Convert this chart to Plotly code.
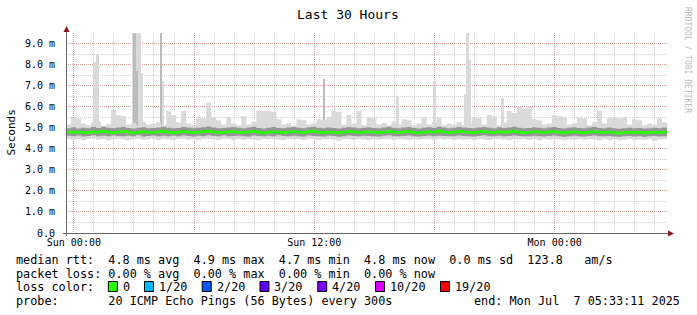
import plotly.graph_objects as go
import pandas as pd

# ---------------- data ----------------
T0 = "2025-07-05 23:36:30"
T1 = "2025-07-07 05:36:30"
STEP = "15min"

med = [4.78, 4.80, 4.77, 4.79, 4.76, 4.81, 4.78, 4.83, 4.79, 4.76,
       4.80, 4.82, 4.78, 4.75, 4.79, 4.81, 4.77, 4.78, 4.80, 4.84,
       4.79, 4.76, 4.78, 4.82, 4.80, 4.77, 4.79, 4.81, 4.84, 4.80,
       4.76, 4.78, 4.80, 4.82, 4.79, 4.77, 4.80, 4.83, 4.78, 4.75,
       4.79, 4.81, 4.78, 4.76, 4.80, 4.82, 4.79, 4.77, 4.81, 4.84,
       4.79, 4.76, 4.80, 4.78, 4.75, 4.79, 4.82, 4.80, 4.77, 4.79,
       4.81, 4.78, 4.76, 4.80, 4.83, 4.79, 4.77, 4.80, 4.82, 4.78,
       4.75, 4.79, 4.81, 4.78, 4.84, 4.80, 4.77, 4.79, 4.82, 4.80,
       4.78, 4.76, 4.80, 4.83, 4.79, 4.77, 4.81, 4.78, 4.80, 4.84,
       4.79, 4.76, 4.78, 4.81, 4.79, 4.77, 4.80, 4.82, 4.78, 4.75,
       4.79, 4.81, 4.78, 4.76, 4.80, 4.82, 4.78, 4.77, 4.80, 4.76,
       4.74, 4.77, 4.79, 4.76, 4.78, 4.75, 4.77, 4.79, 4.76, 4.80]

hi = [5.15, 5.50, 5.45, 5.20, 5.12, 5.25, 5.30, 5.10, 5.18, 5.85,
      5.60, 5.55, 5.15, 5.22, 5.10, 5.28, 5.15, 5.20, 5.26, 5.12,
      5.80, 5.60, 5.25, 5.80, 5.20, 5.12, 5.50, 5.45, 6.20, 5.50,
      5.35, 5.15, 5.50, 5.20, 5.12, 5.55, 5.15, 5.28, 5.80, 5.80,
      5.80, 5.75, 5.40, 5.15, 5.20, 5.10, 5.40, 5.35, 5.15, 5.22,
      5.40, 5.35, 5.50, 5.80, 5.75, 5.15, 5.60, 5.20, 5.80, 5.12,
      5.50, 5.45, 5.15, 5.22, 5.12, 5.28, 5.15, 5.40, 5.35, 5.12,
      5.20, 5.50, 5.15, 5.26, 5.50, 5.12, 5.20, 5.15, 5.28, 5.12,
      5.20, 5.50, 5.45, 5.15, 5.60, 5.55, 5.12, 5.26, 5.80, 5.70,
      6.00, 5.90, 6.00, 5.40, 5.35, 5.15, 5.20, 5.60, 5.55, 5.50,
      5.15, 5.22, 5.50, 5.45, 5.12, 5.26, 5.80, 5.20, 5.45, 5.50,
      5.45, 5.50, 5.15, 5.40, 5.35, 5.12, 5.20, 5.15, 5.45, 5.26]

lo = [4.45, 4.42, 4.48, 4.40, 4.46, 4.50, 4.43, 4.47, 4.41, 4.45,
      4.49, 4.44, 4.40, 4.46, 4.48, 4.43, 4.45, 4.50, 4.42, 4.47,
      4.44, 4.40, 4.46, 4.48, 4.43, 4.45, 4.41, 4.47, 4.49, 4.44,
      4.42, 4.46, 4.45, 4.40, 4.48, 4.43, 4.47, 4.44, 4.41, 4.46,
      4.45, 4.49, 4.43, 4.40, 4.47, 4.44, 4.46, 4.42, 4.48, 4.45,
      4.41, 4.44, 4.47, 4.43, 4.38, 4.46, 4.45, 4.42, 4.48, 4.44,
      4.40, 4.46, 4.43, 4.47, 4.45, 4.41, 4.48, 4.44, 4.42, 4.46,
      4.43, 4.47, 4.45, 4.40, 4.48, 4.44, 4.46, 4.42, 4.45, 4.43,
      4.47, 4.41, 4.46, 4.44, 4.42, 4.48, 4.45, 4.43, 4.40, 4.46,
      4.44, 4.47, 4.42, 4.45, 4.41, 4.46, 4.43, 4.48, 4.44, 4.40,
      4.45, 4.42, 4.47, 4.43, 4.46, 4.44, 4.41, 4.48, 4.42, 4.45,
      4.40, 4.43, 4.46, 4.41, 4.44, 4.42, 4.45, 4.38, 4.43, 4.46]

q1 = [4.62, 4.60, 4.63, 4.58, 4.61, 4.64, 4.59, 4.62, 4.60, 4.63,
      4.61, 4.59, 4.62, 4.60, 4.64, 4.58, 4.61, 4.63, 4.60, 4.62,
      4.59, 4.62, 4.60, 4.63, 4.61, 4.58, 4.62, 4.60, 4.64, 4.61,
      4.60, 4.63, 4.59, 4.61, 4.62, 4.60, 4.58, 4.63, 4.61, 4.59,
      4.62, 4.60, 4.64, 4.61, 4.59, 4.62, 4.60, 4.58, 4.63, 4.61,
      4.60, 4.58, 4.62, 4.61, 4.57, 4.60, 4.63, 4.61, 4.59, 4.62,
      4.61, 4.60, 4.58, 4.62, 4.64, 4.60, 4.59, 4.61, 4.63, 4.60,
      4.58, 4.61, 4.63, 4.60, 4.62, 4.61, 4.59, 4.60, 4.63, 4.61,
      4.60, 4.58, 4.61, 4.64, 4.60, 4.59, 4.62, 4.60, 4.61, 4.63,
      4.61, 4.59, 4.60, 4.62, 4.60, 4.58, 4.61, 4.63, 4.60, 4.57,
      4.60, 4.62, 4.59, 4.58, 4.61, 4.63, 4.60, 4.59, 4.61, 4.58,
      4.57, 4.59, 4.61, 4.58, 4.60, 4.57, 4.59, 4.61, 4.58, 4.60]

q3 = [4.98, 5.02, 4.96, 5.00, 4.97, 5.03, 4.99, 5.05, 5.00, 4.97,
      5.01, 5.04, 4.99, 4.96, 5.00, 5.02, 4.98, 4.99, 5.01, 5.05,
      5.00, 4.97, 4.99, 5.03, 5.01, 4.98, 5.00, 5.02, 5.06, 5.01,
      4.97, 4.99, 5.01, 5.04, 5.00, 4.98, 5.01, 5.05, 4.99, 4.96,
      5.00, 5.03, 4.99, 4.97, 5.01, 5.04, 5.00, 4.98, 5.02, 5.05,
      5.00, 4.97, 5.01, 4.99, 4.96, 5.00, 5.04, 5.01, 4.98, 5.00,
      5.02, 4.99, 4.97, 5.01, 5.05, 5.00, 4.98, 5.01, 5.03, 4.99,
      4.96, 5.00, 5.02, 4.99, 5.05, 5.01, 4.98, 5.00, 5.03, 5.01,
      4.99, 4.97, 5.01, 5.04, 5.00, 4.98, 5.02, 4.99, 5.01, 5.05,
      5.00, 4.97, 4.99, 5.02, 5.00, 4.98, 5.01, 5.04, 4.99, 4.96,
      5.00, 5.02, 4.99, 4.97, 5.01, 5.03, 4.99, 4.98, 5.01, 4.97,
      4.95, 4.98, 5.00, 4.97, 4.99, 4.96, 4.98, 5.00, 4.97, 5.01]

# tall isolated smoke spikes (light)
spike_start = ["2025-07-06 00:56", "2025-07-06 01:05", "2025-07-06 02:53", "2025-07-06 03:20",
               "2025-07-06 04:17", "2025-07-06 04:23", "2025-07-06 12:26", "2025-07-06 16:05",
               "2025-07-06 17:57", "2025-07-06 19:29", "2025-07-06 19:35", "2025-07-06 19:44",
               "2025-07-06 21:20"]
spike_end = ["2025-07-06 01:05", "2025-07-06 01:14", "2025-07-06 03:20", "2025-07-06 03:26",
             "2025-07-06 04:23", "2025-07-06 04:29", "2025-07-06 12:32", "2025-07-06 16:14",
             "2025-07-06 18:06", "2025-07-06 19:35", "2025-07-06 19:44", "2025-07-06 19:50",
             "2025-07-06 21:29"]
spike_top = [8.1, 8.5, 9.5, 7.6, 9.5, 7.2, 7.3, 6.5, 7.2, 6.6, 9.5, 8.2, 6.4]

# darker parts of the spikes
dark_start = ["2025-07-06 02:56", "2025-07-06 03:05", "2025-07-06 04:17", "2025-07-06 12:27"]
dark_end = ["2025-07-06 03:05", "2025-07-06 03:11", "2025-07-06 04:23", "2025-07-06 12:30"]
dark_top = [9.5, 7.7, 9.5, 7.3]

ytick_vals = [0, 1, 2, 3, 4, 5, 6, 7, 8, 9]
ytick_text = ["0.0", "1.0 m", "2.0 m", "3.0 m", "4.0 m", "5.0 m", "6.0 m", "7.0 m", "8.0 m", "9.0 m"]
xtick_vals = ["2025-07-06 00:00", "2025-07-06 06:00", "2025-07-06 12:00", "2025-07-06 18:00", "2025-07-07 00:00"]
xtick_text = ["Sun 00:00", "", "Sun 12:00", "", "Mon 00:00"]

title = "Last 30 Hours"
y_title = "Seconds"
line_rtt = "median rtt:  4.8 ms avg  4.9 ms max  4.7 ms min  4.8 ms now  0.0 ms sd  123.8   am/s"
line_loss = "packet loss: 0.00 % avg  0.00 % max  0.00 % min  0.00 % now"
line_color = "loss color:"
loss_labels = ["0", "1/20", "2/20", "3/20", "4/20", "10/20", "19/20"]
loss_colors = ["#26ff00", "#00b8ff", "#0059ff", "#5e00ff", "#7e00ff", "#dd00ff", "#ff0000"]
line_probe = "probe:       20 ICMP Echo Pings (56 Bytes) every 300s"
line_end = "end: Mon Jul  7 05:33:11 2025"
watermark = "RRDTOOL / TOBI OETIKER"

# ---------------- layout helpers ----------------
W, H = 697, 315
L, R, T, B = 66, 30, 33, 82
PW = W - L - R
PH = H - T - B
MONO = "DejaVu Sans Mono"
FS = 11.8
CWB = 7.22  # legend entry char pitch


def xp(px):
    return (px - L) / PW


def yp(py):
    return (H - B - py) / PH


def nb(s):
    return s.replace(" ", "\u00a0")


LIGHT = "rgb(218,218,218)"
DARKSP = "rgb(188,188,188)"
MID = "rgb(150,150,150)"
GREEN = loss_colors[0]

edges = pd.date_range(T0, periods=len(med) + 1, freq=STEP)


def ext(a):
    return list(a) + [a[-1]]


fig = go.Figure()

# light smoke envelope
fig.add_trace(go.Scatter(x=edges, y=ext(lo), mode="lines", line=dict(width=0, shape="hv"),
                         hoverinfo="skip", showlegend=False))
fig.add_trace(go.Scatter(x=edges, y=ext(hi), mode="lines", line=dict(width=0, shape="hv"),
                         fill="tonexty", fillcolor=LIGHT, hoverinfo="skip", showlegend=False))

# spikes
ss = pd.to_datetime(spike_start)
se = pd.to_datetime(spike_end)
fig.add_trace(go.Bar(x=ss + (se - ss) / 2, y=[t - 4.6 for t in spike_top], base=4.6,
                     width=list((se - ss).total_seconds() * 1000),
                     marker=dict(color=LIGHT, line=dict(width=0)), showlegend=False, hoverinfo="skip"))
ds = pd.to_datetime(dark_start)
de = pd.to_datetime(dark_end)
fig.add_trace(go.Bar(x=ds + (de - ds) / 2, y=[t - 4.6 for t in dark_top], base=4.6,
                     width=list((de - ds).total_seconds() * 1000),
                     marker=dict(color=DARKSP, line=dict(width=0)), showlegend=False, hoverinfo="skip"))

# inner smoke band
fig.add_trace(go.Scatter(x=edges, y=ext(q1), mode="lines", line=dict(width=0, shape="hv"),
                         hoverinfo="skip", showlegend=False))
fig.add_trace(go.Scatter(x=edges, y=ext(q3), mode="lines", line=dict(width=0, shape="hv"),
                         fill="tonexty", fillcolor=MID, hoverinfo="skip", showlegend=False))

# median
fig.add_trace(go.Scatter(x=edges, y=ext(med), mode="lines", line=dict(color=GREEN, width=2.5, shape="hv"),
                         hoverinfo="skip", showlegend=False))

MGRID = "rgba(205,90,90,0.45)"
GRID = "rgba(150,150,150,0.45)"
DASH = "1px,1px"

shapes = []
AX = "rgb(100,100,100)"
ARROW = "rgb(140,20,20)"
# axis lines
shapes.append(dict(type="line", xref="paper", yref="paper", x0=xp(66.5), x1=xp(66.5), y0=yp(236), y1=yp(29),
                   line=dict(color=AX, width=1)))
shapes.append(dict(type="line", xref="paper", yref="paper", x0=xp(63), x1=xp(670), y0=yp(233.5), y1=yp(233.5),
                   line=dict(color=AX, width=1)))
# arrows
shapes.append(dict(type="path", xref="paper", yref="paper",
                   path=f"M {xp(63.5)},{yp(32)} L {xp(69.5)},{yp(32)} L {xp(66.5)},{yp(26)} Z",
                   fillcolor=ARROW, line=dict(width=0)))
shapes.append(dict(type="path", xref="paper", yref="paper",
                   path=f"M {xp(668)},{yp(230.5)} L {xp(668)},{yp(236.5)} L {xp(674)},{yp(233.5)} Z",
                   fillcolor=ARROW, line=dict(width=0)))

ann = []
ann.append(dict(text=title, x=xp(348), y=yp(14), xref="paper", yref="paper", showarrow=False,
                xanchor="center", yanchor="middle", font=dict(family=MONO, size=13, color="black")))
ann.append(dict(text=y_title, x=xp(10.5), y=yp(133), xref="paper", yref="paper", showarrow=False,
                textangle=-90, xanchor="center", yanchor="middle", font=dict(family=MONO, size=11, color="black")))
ann.append(dict(text=watermark, x=xp(688), y=yp(60), xref="paper", yref="paper", showarrow=False,
                textangle=90, xanchor="center", yanchor="middle", font=dict(family=MONO, size=8, color="rgb(190,190,190)")))

LX = 16
PADX = 2
rows_y = [259.5, 273.5, 287, 301]
for txt, yy in [(line_rtt, rows_y[0]), (line_loss, rows_y[1]), (line_color, rows_y[2]), (line_probe, rows_y[3])]:
    ann.append(dict(text=nb(txt), x=xp(LX - PADX), y=yp(yy), xref="paper", yref="paper", showarrow=False,
                    xanchor="left", yanchor="middle", font=dict(family=MONO, size=FS, color="black")))
ann.append(dict(text=nb(line_end), x=xp(680 + PADX), y=yp(rows_y[3]), xref="paper", yref="paper", showarrow=False,
                xanchor="right", yanchor="middle", font=dict(family=MONO, size=FS, color="black")))

pos = 13
for lab, col in zip(loss_labels, loss_colors):
    bx = LX + pos * CWB
    shapes.append(dict(type="rect", xref="paper", yref="paper", x0=xp(bx - 1.5), x1=xp(bx + 7.5),
                       y0=yp(291.5), y1=yp(281.5), fillcolor=col, line=dict(color="black", width=1)))
    ann.append(dict(text=lab, x=xp(bx + 13 - PADX), y=yp(rows_y[2]), xref="paper", yref="paper", showarrow=False,
                    xanchor="left", yanchor="middle", font=dict(family=MONO, size=FS, color="black")))
    pos += len(lab) + 4

fig.update_layout(
    template="none",
    width=W, height=H,
    margin=dict(l=L, r=R, t=T, b=B, pad=0),
    paper_bgcolor="white", plot_bgcolor="white",
    barmode="overlay", bargap=0,
    showlegend=False,
    shapes=shapes, annotations=ann,
    font=dict(family=MONO, size=10, color="black"),
    xaxis=dict(range=[T0, T1], type="date", tickmode="array", tickvals=xtick_vals, ticktext=xtick_text,
               showgrid=True, gridcolor=MGRID, griddash=DASH, gridwidth=1,
               minor=dict(tickmode="linear", tick0="2025-07-06 00:00", dtick=3600000, showgrid=True,
                          gridcolor=GRID, griddash=DASH, gridwidth=1),
               zeroline=False, showline=False, ticks="", automargin=False, ticklabelstandoff=2,
               tickfont=dict(family=MONO, size=10, color="black")),
    yaxis=dict(range=[0, 9.5], tickmode="array", tickvals=ytick_vals, ticktext=ytick_text,
               showgrid=True, gridcolor=MGRID, griddash=DASH, gridwidth=1,
               minor=dict(tickmode="linear", tick0=0, dtick=0.5, showgrid=True,
                          gridcolor=GRID, griddash=DASH, gridwidth=1),
               zeroline=False, showline=False, ticks="", automargin=False, ticklabelstandoff=10,
               tickfont=dict(family=MONO, size=10, color="black")),
)

fig.write_html("out.html")
